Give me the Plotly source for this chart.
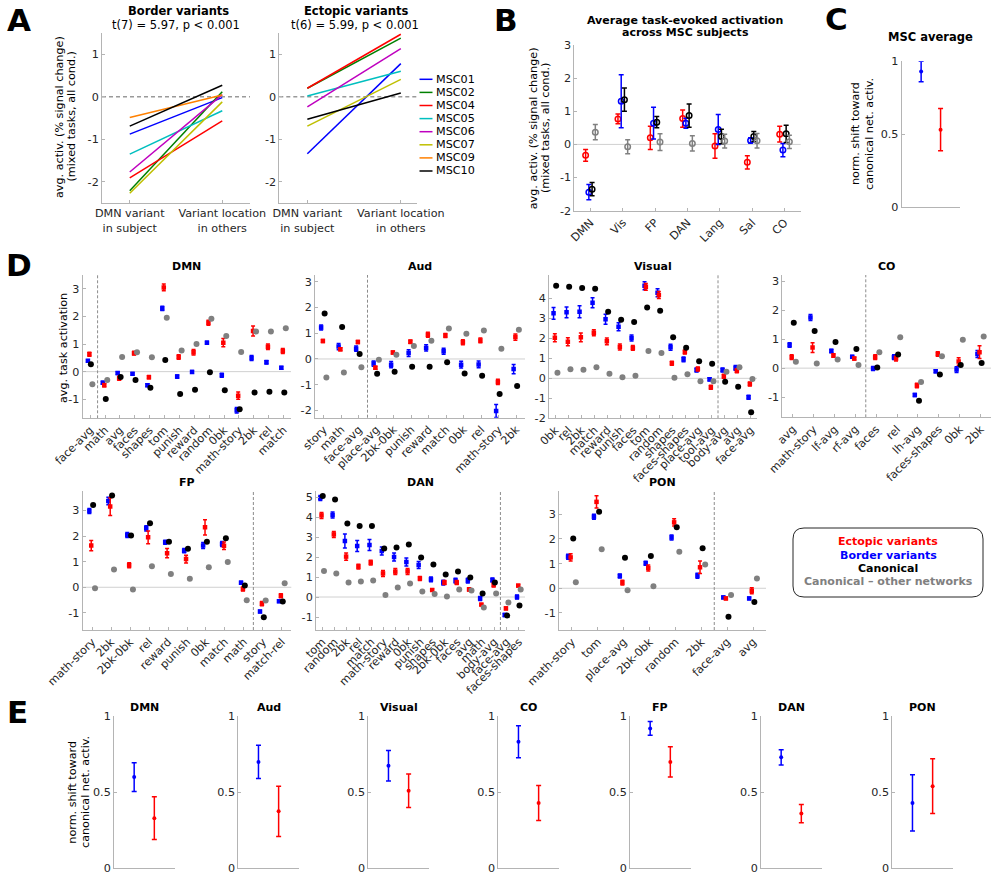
import plotly.graph_objects as go

W, H = 999, 881
FONT = "DejaVu Sans"
TICK_COLOR = "#262626"
AXIS_COLOR = "#b4b4b4"
RED, BLUE, BLACK, GRAY = "#ff0000", "#0000ff", "#000000", "#808080"

# ---------------- Panel A data ----------------
a_xlabels = ["DMN variant<br>in subject", "Variant location<br>in others"]
subjects = ["MSC01", "MSC02", "MSC04", "MSC05", "MSC06", "MSC07", "MSC09", "MSC10"]
subject_colors = ["#0000ff", "#008000", "#ff0000", "#00bfbf", "#bf00bf", "#bfbf00", "#ff8000", "#000000"]
border_in_subject = [-0.88, -2.21, -1.91, -1.35, -1.77, -2.27, -0.49, -0.69]
border_in_others = [-0.02, 0.12, -0.57, -0.33, 0.05, -0.12, 0.04, 0.27]
ectopic_subjects = ["MSC01", "MSC02", "MSC04", "MSC05", "MSC06", "MSC07", "MSC10"]
ectopic_in_subject = [-1.34, 0.20, 0.20, 0.02, -0.24, -0.69, -0.53]
ectopic_in_others = [0.78, 1.38, 1.47, 0.60, 1.13, 0.41, 0.09]
a_yticks = [-2, -1, 0, 1]

# ---------------- Panel B data ----------------
b_networks = ["DMN", "Vis", "FP", "DAN", "Lang", "Sal", "CO"]
b_ectopic = [-0.33, 0.77, 0.20, 0.78, -0.05, -0.54, 0.31]
b_ectopic_err = [0.18, 0.15, 0.35, 0.26, 0.37, 0.20, 0.24]
b_border = [-1.44, 1.30, 0.64, 0.64, 0.45, 0.12, -0.17]
b_border_err = [0.23, 0.80, 0.48, 0.15, 0.45, 0.08, 0.20]
b_canon = [-1.35, 1.35, 0.67, 0.87, 0.24, 0.24, 0.32]
b_canon_err = [0.20, 0.35, 0.17, 0.35, 0.22, 0.15, 0.26]
b_other = [0.37, -0.07, 0.07, 0.03, 0.10, 0.11, 0.08]
b_other_err = [0.23, 0.21, 0.25, 0.23, 0.21, 0.22, 0.20]
b_yticks = [-2, -1, 0, 1, 2, 3]

# ---------------- Panel C data ----------------
c_border = [0.93]
c_border_err = [0.07]
c_ectopic = [0.53]
c_ectopic_err = [0.145]

# ---------------- Panel D data ----------------
dmn_tasks = ["face-avg", "math", "avg", "faces", "shapes", "tom", "punish", "reward", "random", "0bk", "math-story", "2bk", "rel", "match"]
dmn_border = [0.39, -0.40, -0.05, -0.08, -0.49, 2.29, -0.18, -0.01, 1.05, -0.13, -1.40, 0.49, 0.34, 0.14]
dmn_border_err = [0.04, 0.05, 0.05, 0.04, 0.05, 0.08, 0.06, 0.05, 0.05, 0.07, 0.10, 0.09, 0.06, 0.05]
dmn_ectopic = [0.63, -0.49, -0.24, 0.67, -0.20, 3.05, 0.53, 0.70, 1.77, 1.05, -0.87, 1.47, 0.90, 0.75]
dmn_ectopic_err = [0.07, 0.06, 0.07, 0.07, 0.06, 0.12, 0.08, 0.10, 0.09, 0.15, 0.13, 0.18, 0.10, 0.09]
dmn_canon = [0.27, -0.99, -0.19, -0.30, -0.58, 0.42, -0.81, -0.66, -0.02, -0.67, -1.36, -0.76, -0.73, -0.76]
dmn_other = [-0.46, -0.30, 0.53, 0.70, 0.52, 1.95, 0.77, 1.00, 1.92, 1.29, 0.71, 1.45, 1.45, 1.57]
dmn_split = 1

aud_tasks = ["story", "math", "face-avg", "place-avg", "2bk-0bk", "punish", "reward", "match", "0bk", "rel", "math-story", "2bk"]
aud_border = [1.22, 0.48, 0.40, -0.18, -0.22, 0.23, 0.43, 0.30, -0.22, -0.21, -2.02, -0.39]
aud_border_err = [0.10, 0.12, 0.10, 0.10, 0.12, 0.13, 0.12, 0.12, 0.13, 0.13, 0.25, 0.18]
aud_ectopic = [0.70, 0.38, 0.66, -0.34, 0.25, 0.67, 0.94, 0.91, 0.65, 0.72, -0.89, 0.85]
aud_ectopic_err = [0.06, 0.06, 0.06, 0.06, 0.06, 0.07, 0.10, 0.08, 0.10, 0.09, 0.10, 0.12]
aud_canon = [1.77, 1.24, 0.19, -0.57, -0.50, -0.30, -0.30, -0.13, -0.56, -0.65, -1.36, -1.05]
aud_other = [-0.72, -0.53, -0.32, -0.03, 0.16, 0.50, 0.71, 1.18, 0.98, 1.11, 0.40, 1.13]
aud_split = 3

vis_tasks = ["0bk", "rel", "2bk", "match", "reward", "punish", "faces", "tom", "random", "shapes", "faces-shapes", "place-avg", "tool-avg", "body-avg", "avg", "face-avg"]
vis_border = [3.25, 3.30, 3.33, 3.78, 2.95, 2.58, 2.02, 4.63, 4.28, 1.55, 0.95, 0.42, -0.05, 0.42, 0.52, -0.95]
vis_border_err = [0.30, 0.27, 0.30, 0.25, 0.25, 0.20, 0.15, 0.20, 0.20, 0.15, 0.12, 0.10, 0.08, 0.10, 0.12, 0.10]
vis_ectopic = [2.03, 1.83, 2.05, 2.28, 1.85, 1.57, 1.52, 4.58, 4.17, 0.75, 1.32, 0.47, -0.45, 0.10, 0.38, -0.28]
vis_ectopic_err = [0.20, 0.20, 0.22, 0.15, 0.17, 0.15, 0.12, 0.17, 0.18, 0.10, 0.10, 0.10, 0.10, 0.10, 0.10, 0.10]
vis_canon = [4.63, 4.58, 4.52, 4.48, 3.33, 2.93, 2.82, 3.55, 3.38, 2.05, 1.53, 0.85, 0.73, -0.17, -0.42, -1.70]
vis_other = [0.28, 0.45, 0.43, 0.55, 0.23, 0.05, 0.13, 1.37, 1.27, 0.03, 0.20, -0.15, -0.15, 0.33, 0.55, -0.03]
vis_split = 13

co_tasks = ["avg", "math-story", "lf-avg", "rf-avg", "faces", "rel", "lh-avg", "faces-shapes", "0bk", "2bk"]
co_border = [0.80, 1.75, 0.59, 0.39, -0.01, 0.38, -0.93, -0.11, -0.05, 0.49]
co_border_err = [0.08, 0.10, 0.06, 0.05, 0.07, 0.08, 0.05, 0.05, 0.10, 0.12]
co_ectopic = [0.38, 0.71, 0.44, 0.33, 0.38, 0.33, -0.60, 0.49, 0.23, 0.55]
co_ectopic_err = [0.08, 0.17, 0.06, 0.05, 0.08, 0.08, 0.08, 0.08, 0.13, 0.22]
co_canon = [1.57, 1.28, 0.90, 0.66, 0.02, 0.47, -1.13, -0.22, 0.11, 0.18]
co_other = [0.22, 0.16, 0.30, 0.11, 0.55, 1.07, -0.48, 0.41, 0.98, 1.09]
co_split = 4

fp_tasks = ["math-story", "2bk", "2bk-0bk", "rel", "reward", "punish", "0bk", "match", "math", "story", "match-rel"]
fp_border = [2.98, 3.37, 2.04, 2.30, 1.76, 1.43, 1.63, 1.69, 0.18, -0.95, -0.55]
fp_border_err = [0.10, 0.15, 0.10, 0.10, 0.08, 0.08, 0.12, 0.10, 0.05, 0.05, 0.05]
fp_ectopic = [1.63, 3.15, 0.86, 1.95, 1.33, 1.10, 2.34, 1.62, -0.07, -0.64, -0.33]
fp_ectopic_err = [0.20, 0.35, 0.10, 0.25, 0.18, 0.15, 0.30, 0.15, 0.08, 0.08, 0.08]
fp_canon = [3.21, 3.58, 2.02, 2.50, 1.78, 1.50, 1.78, 1.91, 0.07, -1.17, -0.56]
fp_other = [-0.04, 0.69, -0.09, 0.82, 0.52, 0.33, 0.78, 0.99, -0.51, -0.52, 0.16]
fp_split = 9

dan_tasks = ["tom", "random", "2bk", "rel", "match", "math-story", "reward", "0bk", "punish", "shapes", "2bk-0bk", "faces", "avg", "math", "body-avg", "face-avg", "faces-shapes"]
dan_border = [4.95, 4.10, 2.80, 2.55, 2.60, 2.30, 2.00, 1.75, 1.60, 0.88, 0.72, 0.82, 0.82, -0.07, 0.85, -0.90, 0.00]
dan_border_err = [0.12, 0.15, 0.35, 0.28, 0.28, 0.20, 0.20, 0.20, 0.18, 0.12, 0.12, 0.12, 0.12, 0.10, 0.10, 0.08, 0.10]
dan_ectopic = [4.08, 3.13, 2.02, 1.52, 1.72, 1.18, 1.27, 1.28, 0.93, 0.35, 0.72, 0.72, 0.38, -0.38, 0.60, -0.57, 0.57]
dan_ectopic_err = [0.15, 0.15, 0.18, 0.12, 0.12, 0.15, 0.15, 0.15, 0.10, 0.06, 0.10, 0.10, 0.08, 0.05, 0.10, 0.07, 0.06]
dan_canon = [5.05, 4.88, 3.68, 3.55, 3.55, 2.42, 2.47, 2.63, 1.98, 1.63, 1.12, 1.27, 0.98, 0.18, 0.72, -0.93, -0.42]
dan_other = [1.30, 1.18, 0.73, 0.77, 0.82, 0.10, 0.48, 0.68, 0.27, 0.15, 0.02, 0.38, 0.32, -0.52, 0.17, -0.27, 0.38]
dan_split = 15

pon_tasks = ["math-story", "tom", "place-avg", "2bk-0bk", "random", "2bk", "face-avg", "avg"]
pon_border = [1.28, 2.90, 0.50, 1.01, 2.06, 0.51, -0.37, -0.41]
pon_border_err = [0.10, 0.10, 0.08, 0.08, 0.10, 0.10, 0.05, 0.05]
pon_ectopic = [1.25, 3.50, 0.23, 0.82, 2.67, 0.85, -0.41, -0.10]
pon_ectopic_err = [0.15, 0.25, 0.10, 0.12, 0.15, 0.25, 0.05, 0.12]
pon_canon = [2.02, 3.10, 1.24, 1.31, 2.47, 1.62, -1.15, -0.56]
pon_other = [0.24, 1.58, -0.08, 0.08, 1.48, 0.96, -0.27, 0.40]
pon_split = 6

legend_labels = ["Ectopic variants", "Border variants", "Canonical", "Canonical \u2013 other networks"]
legend_colors = [RED, BLUE, BLACK, GRAY]

# ---------------- Panel E data ----------------
e_networks = ["DMN", "Aud", "Visual", "CO", "FP", "DAN", "PON"]
e_border = [0.60, 0.70, 0.675, 0.833, 0.92, 0.73, 0.43]
e_border_err = [0.095, 0.11, 0.10, 0.105, 0.045, 0.05, 0.185]
e_ectopic = [0.33, 0.375, 0.51, 0.43, 0.70, 0.36, 0.54]
e_ectopic_err = [0.14, 0.165, 0.11, 0.115, 0.10, 0.06, 0.18]
norm_yticks = [0, 0.5, 1]
norm_yticktext = ["0", "0.5", "1"]

# =====================================================
fig = go.Figure()
annotations = []
shapes = []
axis_counter = [0]


def fx(x):
    return x / W


def fy(y):
    return 1 - y / H


def add_axes(xpx, ypx, xrange, yrange, ytickvals, yticktext,
             xtickvals=None, xticktext=None, xtickangle=0):
    axis_counter[0] += 1
    n = axis_counter[0]
    s = "" if n == 1 else str(n)
    tickfont = dict(family=FONT, size=11.2, color=TICK_COLOR)
    xa = dict(domain=[fx(xpx[0]), fx(xpx[1])], range=xrange, anchor="y" + s,
              showgrid=False, zeroline=False, showline=True, linecolor=AXIS_COLOR,
              linewidth=1, tickcolor=AXIS_COLOR, ticklen=3, tickwidth=1,
              tickfont=tickfont, fixedrange=True, automargin=False)
    if xtickvals is not None:
        xa.update(tickmode="array", tickvals=xtickvals, ticktext=xticktext,
                  tickangle=xtickangle, ticks="inside", showticklabels=True)
    else:
        xa.update(ticks="", showticklabels=False)
    ya = dict(domain=[fy(ypx[1]), fy(ypx[0])], range=yrange, anchor="x" + s,
              showgrid=False, zeroline=False, showline=True, linecolor=AXIS_COLOR,
              linewidth=1, ticks="inside", tickcolor=AXIS_COLOR, ticklen=3, tickwidth=1,
              tickmode="array", tickvals=ytickvals, ticktext=yticktext,
              tickfont=tickfont, fixedrange=True, automargin=False)
    fig.update_layout(**{"xaxis" + s: xa, "yaxis" + s: ya})
    return "x" + s, "y" + s


def text(x, y, t, size=11.2, color="#000000", bold=False, angle=0, xanchor="center"):
    if bold:
        t = "<b>" + t + "</b>"
    annotations.append(dict(x=fx(x), y=fy(y), xref="paper", yref="paper", text=t,
                            showarrow=False, textangle=angle, xanchor=xanchor, yanchor="middle",
                            borderpad=0, font=dict(family=FONT, size=size, color=color)))


def hline(xa, ya, dash="solid", color="#d0d0d0", width=1):
    shapes.append(dict(type="line", xref=xa + " domain", yref=ya, x0=0, x1=1, y0=0, y1=0,
                       line=dict(color=color, width=width, dash=dash), layer="below"))


def vline(xa, ya, xv):
    shapes.append(dict(type="line", xref=xa, yref=ya + " domain", x0=xv, x1=xv, y0=0, y1=1,
                       line=dict(color="#8c8c8c", width=1, dash="3px,2px"), layer="below"))


def err_points(xa, ya, xs, ys, errs, color, symbol="square", size=4.5, thick=1.5, cap=2, lw=0):
    marker = dict(color=color, size=size, symbol=symbol)
    if symbol.endswith("open"):
        marker["line"] = dict(color=color, width=lw)
    fig.add_trace(go.Scatter(x=xs, y=ys, mode="markers", xaxis=xa, yaxis=ya,
                             marker=marker, showlegend=False, hoverinfo="skip",
                             error_y=dict(type="data", array=errs, visible=True, color=color,
                                          thickness=thick, width=cap)))


def dots(xa, ya, xs, ys, color, size=6):
    fig.add_trace(go.Scatter(x=xs, y=ys, mode="markers", xaxis=xa, yaxis=ya,
                             marker=dict(color=color, size=size, symbol="circle"),
                             showlegend=False, hoverinfo="skip"))


# ---------------- Panel letters ----------------
for letter, lx, ly in [("A", 19, 20), ("B", 506, 20), ("C", 836, 19), ("D", 19, 265), ("E", 17.5, 711.5)]:
    text(lx, ly, letter, size=31, bold=True)

# ---------------- Panel A ----------------
a_pos = list(range(1, len(a_xlabels) + 1))
xa, ya = add_axes((102, 250), (33, 203), [0.7, 2.3], [-2.5, 1.5], a_yticks,
                  [str(v) for v in a_yticks], a_pos, a_xlabels, 0)
hline(xa, ya, dash="4px,3px", color="#9a9a9a", width=1.5)
for i, s in enumerate(subjects):
    fig.add_trace(go.Scatter(x=a_pos, y=[border_in_subject[i], border_in_others[i]], mode="lines",
                             xaxis=xa, yaxis=ya, line=dict(color=subject_colors[i], width=1.5),
                             showlegend=False, hoverinfo="skip"))
text(178, 11, "Border variants", size=11.5, bold=True)
text(176, 25, "t(7) = 5.97, p < 0.001", size=11.5)

xa, ya = add_axes((279.3, 416.7), (33, 203), [0.7, 2.17], [-2.5, 1.5], a_yticks,
                  [str(v) for v in a_yticks], a_pos, a_xlabels, 0)
hline(xa, ya, dash="4px,3px", color="#9a9a9a", width=1.5)
for i, s in enumerate(ectopic_subjects):
    c = subject_colors[subjects.index(s)]
    fig.add_trace(go.Scatter(x=a_pos, y=[ectopic_in_subject[i], ectopic_in_others[i]], mode="lines",
                             xaxis=xa, yaxis=ya, line=dict(color=c, width=1.5),
                             showlegend=False, hoverinfo="skip"))
text(356, 11, "Ectopic variants", size=11.5, bold=True)
text(355, 25, "t(6) = 5.99, p < 0.001", size=11.5)

text(59, 117, "avg. activ. (% signal change)", angle=-90)
text(70.5, 117, "(mixed tasks, all cond.)", angle=-90)

# A legend
for i, s in enumerate(subjects):
    yy = 79.3 + 13.1 * i
    shapes.append(dict(type="line", xref="paper", yref="paper", x0=fx(419.5), x1=fx(432.5),
                       y0=fy(yy), y1=fy(yy), line=dict(color=subject_colors[i], width=1.5)))
    text(435, yy, s, size=11.2, xanchor="left")

# ---------------- Panel B ----------------
b_pos = list(range(1, len(b_networks) + 1))
xa, ya = add_axes((574.3, 800.7), (45, 210.7), [0.5, 7.5], [-2, 3], b_yticks,
                  [str(v) for v in b_yticks], b_pos, b_networks, -45)
hline(xa, ya)
for vals, errs, col, off in [(b_ectopic, b_ectopic_err, RED, -0.15), (b_border, b_border_err, BLUE, -0.05),
                             (b_canon, b_canon_err, BLACK, 0.05), (b_other, b_other_err, GRAY, 0.15)]:
    err_points(xa, ya, [p + off for p in b_pos], vals, errs, col, symbol="circle-open",
               size=5.5, thick=1.5, cap=2.5, lw=1.5)
text(685, 20, "Average task-evoked activation", size=11, bold=True)
text(685, 32.7, "across MSC subjects", size=11, bold=True)
text(533.3, 128, "avg. activ. (% signal change)", angle=-90)
text(545, 128, "(mixed tasks, all cond.)", angle=-90)

# ---------------- Panel C ----------------
xa, ya = add_axes((901.7, 960), (61.3, 206.7), [0, 3], [0, 1], norm_yticks, norm_yticktext)
err_points(xa, ya, [1], c_border, c_border_err, BLUE, symbol="circle", size=4, thick=1.5, cap=2.5)
err_points(xa, ya, [2], c_ectopic, c_ectopic_err, RED, symbol="circle", size=4, thick=1.5, cap=2.5)
text(930.7, 36.7, "MSC average", size=11.5, bold=True)
text(856, 134, "norm. shift toward", angle=-90)
text(870, 134, "canonical net. activ.", angle=-90)


# ---------------- Panel D ----------------
def d_panel(xpx, ypx, title, tasks, border, border_err, ectopic, ectopic_err, canon, other, split, yrange, yticks):
    pos = list(range(1, len(tasks) + 1))
    xa, ya = add_axes(xpx, ypx, [0.5, len(tasks) + 0.5], yrange, yticks,
                      [str(v) for v in yticks], pos, tasks, -45)
    hline(xa, ya)
    vline(xa, ya, split + 0.5)
    err_points(xa, ya, [p - 0.15 for p in pos], border, border_err, BLUE)
    err_points(xa, ya, [p - 0.05 for p in pos], ectopic, ectopic_err, RED)
    dots(xa, ya, [p + 0.05 for p in pos], canon, BLACK)
    dots(xa, ya, [p + 0.15 for p in pos], other, GRAY)
    text((xpx[0] + xpx[1]) / 2, ypx[0] - 8.5, title, size=11, bold=True)


d_panel((82.7, 291), (275, 418.3), "DMN", dmn_tasks, dmn_border, dmn_border_err, dmn_ectopic,
        dmn_ectopic_err, dmn_canon, dmn_other, dmn_split, [-1.69, 3.5], [-1, 0, 1, 2, 3])
d_panel((315, 525), (275, 417.7), "Aud", aud_tasks, aud_border, aud_border_err, aud_ectopic,
        aud_ectopic_err, aud_canon, aud_other, aud_split, [-2.28, 3.26], [-2, -1, 0, 1, 2, 3])
d_panel((549, 757), (275, 418.3), "Visual", vis_tasks, vis_border, vis_border_err, vis_ectopic,
        vis_ectopic_err, vis_canon, vis_other, vis_split, [-2.0, 5.17], [-2, -1, 0, 1, 2, 3, 4])
d_panel((782.3, 991), (275, 417.3), "CO", co_tasks, co_border, co_border_err, co_ectopic,
        co_ectopic_err, co_canon, co_other, co_split, [-1.7, 3.22], [-1, 0, 1, 2, 3])
d_panel((82.7, 291.3), (491, 630), "FP", fp_tasks, fp_border, fp_border_err, fp_ectopic,
        fp_ectopic_err, fp_canon, fp_other, fp_split, [-1.67, 3.76], [-1, 0, 1, 2, 3])
d_panel((316, 525), (491, 630), "DAN", dan_tasks, dan_border, dan_border_err, dan_ectopic,
        dan_ectopic_err, dan_canon, dan_other, dan_split, [-1.65, 5.3], [-1, 0, 1, 2, 3, 4, 5])
d_panel((559, 766), (491, 630), "PON", pon_tasks, pon_border, pon_border_err, pon_ectopic,
        pon_ectopic_err, pon_canon, pon_other, pon_split, [-1.69, 3.94], [-1, 0, 1, 2, 3])
text(63, 348, "avg. task activation", angle=-90)

# D legend box (rounded)
bx0, bx1, by0, by1, r = 793, 983, 528, 597, 11
path = (f"M {fx(bx0 + r)} {fy(by0)} L {fx(bx1 - r)} {fy(by0)} Q {fx(bx1)} {fy(by0)} {fx(bx1)} {fy(by0 + r)} "
        f"L {fx(bx1)} {fy(by1 - r)} Q {fx(bx1)} {fy(by1)} {fx(bx1 - r)} {fy(by1)} "
        f"L {fx(bx0 + r)} {fy(by1)} Q {fx(bx0)} {fy(by1)} {fx(bx0)} {fy(by1 - r)} "
        f"L {fx(bx0)} {fy(by0 + r)} Q {fx(bx0)} {fy(by0)} {fx(bx0 + r)} {fy(by0)} Z")
shapes.append(dict(type="path", xref="paper", yref="paper", path=path,
                   line=dict(color="#262626", width=1)))
for i, (lab, col) in enumerate(zip(legend_labels, legend_colors)):
    text(888, 541.7 + 13.3 * i, lab, size=11, color=col, bold=True)

# ---------------- Panel E ----------------
e_left = [114, 238.3, 368.3, 498.3, 630, 761, 892.3]
for i, net in enumerate(e_networks):
    x0 = e_left[i]
    xa, ya = add_axes((x0, x0 + 60.5), (716.3, 868.3), [0, 3], [0, 1], norm_yticks, norm_yticktext)
    err_points(xa, ya, [1], [e_border[i]], [e_border_err[i]], BLUE, symbol="circle", size=4, thick=1.5, cap=2.5)
    err_points(xa, ya, [2], [e_ectopic[i]], [e_ectopic_err[i]], RED, symbol="circle", size=4, thick=1.5, cap=2.5)
    text(x0 + 30.25, 707.7, net, size=11, bold=True)
text(71.7, 792, "norm. shift toward", angle=-90)
text(85, 792, "canonical net. activ.", angle=-90)

fig.update_layout(width=W, height=H, margin=dict(l=0, r=0, t=0, b=0), template="none",
                  plot_bgcolor="white", paper_bgcolor="white", showlegend=False,
                  font=dict(family=FONT, size=11.2, color=TICK_COLOR),
                  annotations=annotations, shapes=shapes)

fig.write_html("out.html", config={"displayModeBar": False},
               post_script="document.body.style.margin='0px';")
